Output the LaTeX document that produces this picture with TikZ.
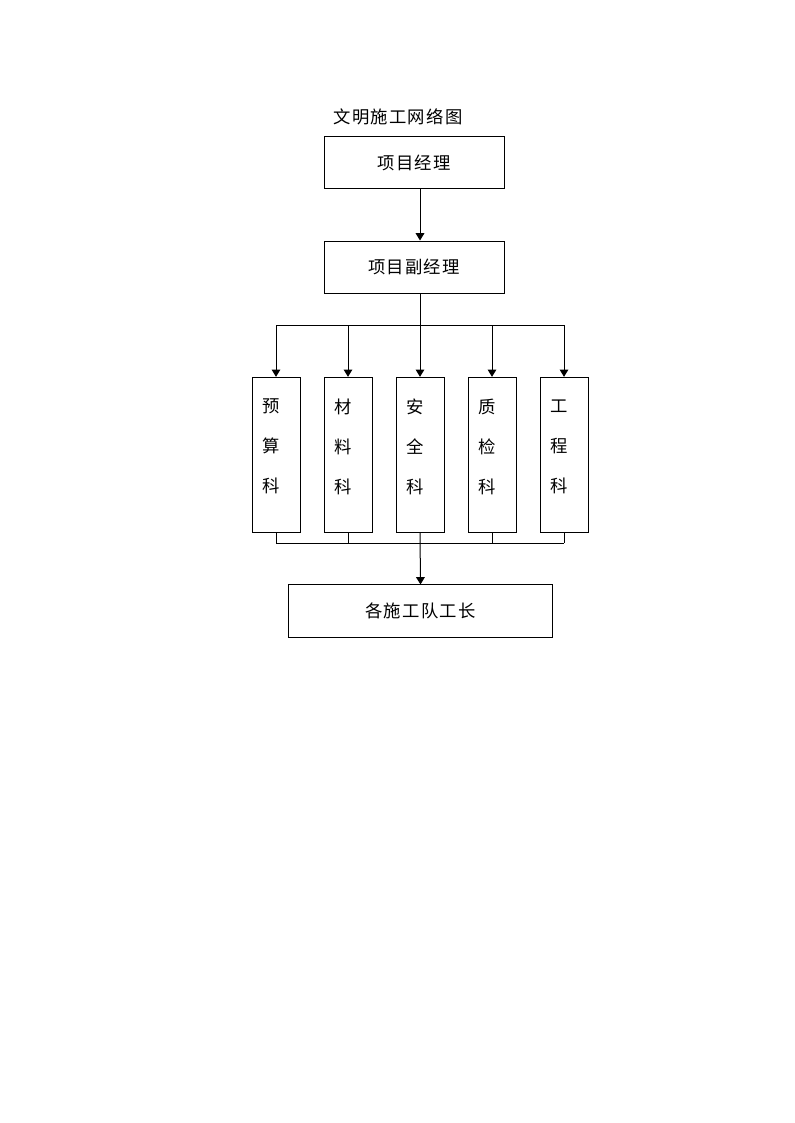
\documentclass[tikz,border=0pt]{standalone}
\usepackage{fontspec}
\newfontfamily\cjk[LetterSpace=7.5]{Noto Sans CJK SC}
\usetikzlibrary{arrows.meta,positioning}

\begin{document}
\begin{tikzpicture}[x=0.75pt, y=-0.75pt, >={Triangle[length=5.5pt,width=6.5pt]}, line width=0.75pt,
    every node/.style={font=\cjk\fontsize{13pt}{30pt}\selectfont},
    box/.style={draw, minimum width=135pt, minimum height=39pt, inner sep=0pt},
    dept/.style={draw, minimum width=36pt, minimum height=116.5pt, inner sep=0pt},
    depttext/.style={align=center, xshift=-3.4pt, yshift=6.2pt}]
    \useasboundingbox (0,0) rectangle (794,1123);
    \node (title) at (398,117) {文明施工网络图};
    \node[box] (pm) at (414,163) {项目经理};
    \node[box] (dpm) at (414,267) {项目副经理};
    \node[dept, label={[depttext]center:预\\算\\科}] (ys) at (276,455) {};
    \node[dept, label={[depttext]center:材\\料\\科}] (cl) at (348,455) {};
    \node[dept, label={[depttext]center:安\\全\\科}] (aq) at (420,455) {};
    \node[dept, label={[depttext]center:质\\检\\科}] (zj) at (492,455) {};
    \node[dept, label={[depttext]center:工\\程\\科}] (gc) at (564,455) {};
    \node[draw, minimum width=198pt, minimum height=39.5pt, inner sep=0pt] (team) at (420.5,611.3) {各施工队工长};
    \coordinate (topbus) at (420,325);
    \coordinate (botbus) at (420,543);
    \draw[->] ([xshift=4.5pt]pm.south) -- ([xshift=4.5pt]dpm.north);
    \draw ([xshift=4.5pt]dpm.south) -- (topbus);
    \draw (ys.north |- topbus) -- (gc.north |- topbus);
    \foreach \d in {ys,cl,aq,zj,gc} \draw[->] (\d.north |- topbus) -- (\d.north);
    \foreach \d in {ys,cl,zj,gc} \draw (\d.south) -- (\d.south |- botbus);
    \draw (ys.south |- botbus) -- (gc.south |- botbus);
    \draw[->] (aq.south) -- (team.north);
\end{tikzpicture}
\end{document}
